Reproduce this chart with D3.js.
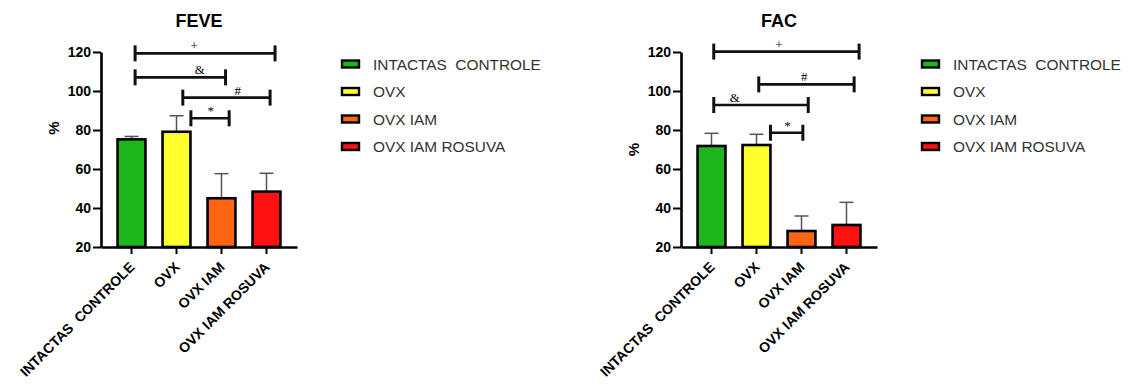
<!DOCTYPE html>
<html>
<head>
<meta charset="utf-8">
<script src="https://cdn.jsdelivr.net/npm/d3@7"></script>
<style>
  html, body { margin: 0; padding: 0; background: #ffffff; }
  svg { display: block; }
</style>
</head>
<body>
<svg id="chart" width="1131" height="389"></svg>
<script>
// Groups
const categories = ["INTACTAS  CONTROLE", "OVX", "OVX IAM", "OVX IAM ROSUVA"];
const groupColors = ["#1db71d", "#ffff2e", "#ff6612", "#ff1111"];

// FEVE (%) — mean and upper error
const feveMeans = [75.2, 79.1, 45.0, 48.4];
const feveErrors = [1.5, 8.2, 12.6, 9.4];

// FAC (%) — mean and upper error
const facMeans = [71.8, 72.3, 28.2, 31.3];
const facErrors = [6.5, 5.5, 7.7, 11.6];

const yTicks = [20, 40, 60, 80, 100, 120];

// Significance brackets: ends and label position in group-index units, height in %
const feveBrackets = [
  { symbol: "+", from: 0.08, to: 3.19, labelAt: 1.39, level: 119.3 },
  { symbol: "&", from: 0.08, to: 2.09, labelAt: 1.52, level: 107.0 },
  { symbol: "#", from: 1.14, to: 3.08, labelAt: 2.36, level: 96.6 },
  { symbol: "*", from: 1.32, to: 2.17, labelAt: 1.76, level: 86.0 }
];
const facBrackets = [
  { symbol: "+", from: 0.05, to: 3.28, labelAt: 1.50, level: 120.2 },
  { symbol: "#", from: 1.05, to: 3.17, labelAt: 2.06, level: 103.4 },
  { symbol: "&", from: 0.05, to: 2.15, labelAt: 0.52, level: 92.8 },
  { symbol: "*", from: 1.31, to: 2.03, labelAt: 1.69, level: 78.6 }
];

const svg = d3.select("#chart");
const FONT = "'Liberation Sans', Arial, sans-serif";

function drawPanel(opts) {
  const { left, title, means, errors, brackets, legendX, yLabelAt } = opts;
  const plotW = 196, top = 52, bottom = 247;
  const g = svg.append("g");

  const x = d3.scaleBand()
    .domain(categories)
    .range([left, left + plotW])
    .paddingInner(0.38)
    .paddingOuter(0.368);
  const y = d3.scaleLinear().domain([20, 120]).range([bottom, top]);
  const idx = d3.scaleLinear()
    .domain([0, categories.length - 1])
    .range([x(categories[0]) + x.bandwidth() / 2,
            x(categories[categories.length - 1]) + x.bandwidth() / 2]);

  const rows = categories.map((c, i) => ({ c, mean: means[i], err: errors[i], color: groupColors[i] }));

  // Error bars (upper half)
  const eb = g.append("g");
  rows.forEach(d => {
    const cx = x(d.c) + x.bandwidth() / 2;
    eb.append("line").attr("x1", cx).attr("x2", cx)
      .attr("y1", y(d.mean)).attr("y2", y(d.mean + d.err))
      .attr("stroke", "#555").attr("stroke-width", 1.5);
    eb.append("line").attr("x1", cx - 7).attr("x2", cx + 7)
      .attr("y1", y(d.mean + d.err)).attr("y2", y(d.mean + d.err))
      .attr("stroke", "#555").attr("stroke-width", 1.5);
  });

  // Bars
  g.append("g").selectAll("rect").data(rows).join("rect")
    .attr("x", d => x(d.c))
    .attr("y", d => y(d.mean))
    .attr("width", x.bandwidth())
    .attr("height", d => y(20) - y(d.mean))
    .attr("fill", d => d.color)
    .attr("stroke", "#000")
    .attr("stroke-width", 2.6);

  // Y axis
  const yAxis = g.append("g")
    .attr("transform", `translate(${left},0)`)
    .call(d3.axisLeft(y).tickValues(yTicks).tickSize(8).tickPadding(2).tickSizeOuter(0))
    .attr("font-size", null).attr("font-family", null);
  yAxis.select(".domain").attr("stroke", "#000").attr("stroke-width", 2.6);
  yAxis.selectAll(".tick line").attr("stroke", "#000").attr("stroke-width", 2);
  yAxis.selectAll(".tick text")
    .style("font-family", FONT).style("font-size", "14px").style("font-weight", "bold").attr("fill", "#000");

  // X axis
  const xAxis = g.append("g")
    .attr("transform", `translate(0,${bottom})`)
    .call(d3.axisBottom(x).tickSize(7).tickSizeOuter(0))
    .attr("font-size", null).attr("font-family", null);
  xAxis.select(".domain").attr("stroke", "#000").attr("stroke-width", 2.6);
  xAxis.selectAll(".tick line").attr("stroke", "#000").attr("stroke-width", 2);
  xAxis.selectAll(".tick text")
    .style("font-family", FONT).style("font-size", "14px").style("font-weight", "bold").attr("fill", "#000")
    .attr("text-anchor", "end")
    .attr("y", 0).attr("dy", 0)
    .attr("transform", "translate(4,21) rotate(-45)")
    .style("white-space", "pre");

  // Y label
  g.append("text")
    .attr("transform", `translate(${left - 42},${y(yLabelAt)}) rotate(-90)`)
    .attr("text-anchor", "middle")
    .style("font-family", FONT).style("font-size", "15px").style("font-weight", "bold")
    .attr("fill", "#000")
    .text("%");

  // Title
  g.append("text")
    .attr("x", left + plotW / 2).attr("y", 27)
    .attr("text-anchor", "middle")
    .style("font-family", FONT).style("font-size", "18px").style("font-weight", "bold")
    .attr("fill", "#000")
    .text(title);

  // Significance brackets
  const br = g.append("g");
  brackets.forEach(b => {
    const yy = y(b.level);
    br.append("line").attr("x1", idx(b.from)).attr("x2", idx(b.to))
      .attr("y1", yy).attr("y2", yy).attr("stroke", "#111").attr("stroke-width", 2.6);
    [b.from, b.to].forEach(p => {
      br.append("line").attr("x1", idx(p)).attr("x2", idx(p))
        .attr("y1", yy - 8).attr("y2", yy + 8)
        .attr("stroke", "#111").attr("stroke-width", 3);
    });
    br.append("text")
      .attr("x", idx(b.labelAt)).attr("y", yy - 3)
      .attr("text-anchor", "middle")
      .style("font-family", "'Liberation Serif', 'Times New Roman', serif")
      .style("font-size", "13px")
      .attr("fill", "#000")
      .text(b.symbol);
  });

  // Legend
  const lg = g.append("g");
  categories.forEach((c, i) => {
    const cy = 64 + i * 27.5;
    lg.append("rect")
      .attr("x", legendX).attr("y", cy - 3.5)
      .attr("width", 17).attr("height", 7)
      .attr("fill", groupColors[i]).attr("stroke", "#000").attr("stroke-width", 2.4);
    lg.append("text")
      .attr("x", legendX + 31).attr("y", cy + 5.5)
      .style("font-family", FONT).style("font-size", "15.4px")
      .attr("fill", "#333")
      .style("white-space", "pre")
      .text(c);
  });
}

drawPanel({ left: 101, title: "FEVE", means: feveMeans, errors: feveErrors, brackets: feveBrackets, legendX: 342, yLabelAt: 81 });
drawPanel({ left: 681, title: "FAC", means: facMeans, errors: facErrors, brackets: facBrackets, legendX: 922, yLabelAt: 70 });
</script>
</body>
</html>
